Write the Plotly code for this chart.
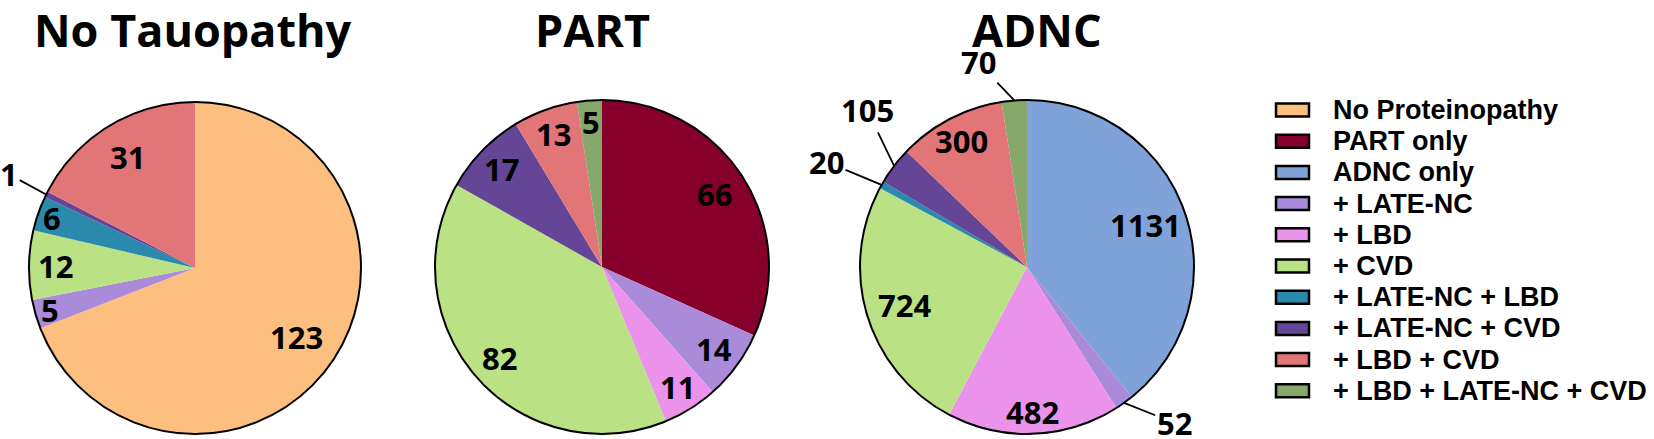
import math
import plotly.graph_objects as go

# ---------------- data ----------------
categories = ["No Proteinopathy", "PART only", "ADNC only", "+ LATE-NC", "+ LBD", "+ CVD",
              "+ LATE-NC + LBD", "+ LATE-NC + CVD", "+ LBD + CVD", "+ LBD + LATE-NC + CVD"]
no_tau_values = [123, 0, 0, 5, 0, 12, 6, 1, 31, 0]
part_values = [0, 66, 0, 14, 11, 82, 0, 17, 13, 5]
adnc_values = [0, 0, 1131, 52, 482, 724, 20, 105, 300, 70]
titles = ["No Tauopathy", "PART", "ADNC"]

# ---------------- style ----------------
colors = ["#FDBF7F", "#87002B", "#7FA3D8", "#A98BDA", "#EB93EA", "#BBE185",
          "#2A8AAD", "#644596", "#E27577", "#86A86B"]
W, H = 1654, 439
pies = [dict(cx=195, cy=268, R=166, tx=193),
        dict(cx=602, cy=267, R=167, tx=592),
        dict(cx=1027, cy=267, R=167, tx=1037)]
# radial fraction for inside labels; tuples (ax, ay) for labels with leader lines
label_pos = [
    {"No Proteinopathy": 0.74, "+ LATE-NC": 0.91, "+ CVD": 0.84, "+ LATE-NC + LBD": 0.91,
     "+ LATE-NC + CVD": (-37, -20), "+ LBD + CVD": 0.78},
    {"PART only": 0.80, "+ LATE-NC": 0.83, "+ LBD": 0.85, "+ CVD": 0.82,
     "+ LATE-NC + CVD": 0.84, "+ LBD + CVD": 0.85, "+ LBD + LATE-NC + CVD": 0.87},
    {"ADNC only": 0.75, "+ LATE-NC": (50, 20), "+ LBD": 0.87, "+ CVD": 0.77,
     "+ LATE-NC + LBD": (-55, -23), "+ LATE-NC + CVD": (-27, -56),
     "+ LBD + CVD": 0.85, "+ LBD + LATE-NC + CVD": (-36, -38)},
]
NUM_FONT = dict(family="Open Sans", size=31, color="black")


def px(x):
    return x / W


def py(y):
    return 1 - y / H


fig = go.Figure()
annotations = []
all_values = [no_tau_values, part_values, adnc_values]

for i, vals in enumerate(all_values):
    p = pies[i]
    labs = [c for c, v in zip(categories, vals) if v > 0]
    vs = [v for v in vals if v > 0]
    cols = [colors[categories.index(c)] for c in labs]
    dom = dict(x=[px(p["cx"] - p["R"]), px(p["cx"] + p["R"])],
               y=[py(p["cy"] + p["R"]), py(p["cy"] - p["R"])])
    fig.add_trace(go.Pie(labels=labs, values=vs, sort=False, direction="clockwise",
                         rotation=0, marker=dict(colors=cols, line=dict(width=0)),
                         textinfo="none", domain=dom, showlegend=False, hoverinfo="label+value"))
    # outline circle
    fig.add_trace(go.Pie(labels=["outline"], values=[1], sort=False, domain=dom,
                         marker=dict(colors=["rgba(0,0,0,0)"], line=dict(color="black", width=2)),
                         textinfo="none", showlegend=False, hoverinfo="skip"))
    # value labels computed from data
    total = sum(vs)
    cum = 0
    for lab, v in zip(labs, vs):
        theta = math.radians(360 * (cum + v / 2) / total)
        cum += v
        pos = label_pos[i][lab]
        if isinstance(pos, tuple):
            ex = p["cx"] + p["R"] * math.sin(theta)
            ey = p["cy"] - p["R"] * math.cos(theta)
            annotations.append(dict(x=px(ex), y=py(ey), xref="paper", yref="paper",
                                    text="<b>%d</b>" % v, showarrow=True, arrowhead=0,
                                    arrowwidth=1.8, arrowcolor="black", ax=pos[0], ay=pos[1],
                                    standoff=0, font=NUM_FONT))
        else:
            r = pos * p["R"]
            tx = p["cx"] + r * math.sin(theta)
            ty = p["cy"] - r * math.cos(theta)
            annotations.append(dict(x=px(tx), y=py(ty), xref="paper", yref="paper",
                                    text="<b>%d</b>" % v, showarrow=False,
                                    xanchor="center", yanchor="middle", font=NUM_FONT))
    # title
    annotations.append(dict(x=px(p["tx"]), y=py(29), xref="paper", yref="paper",
                            text="<b>%s</b>" % titles[i], showarrow=False,
                            xanchor="center", yanchor="middle",
                            font=dict(family="Open Sans", size=45, color="black")))

# legend (drawn manually)
shapes = []
for k, (c, col) in enumerate(zip(categories, colors)):
    yc = 110 + k * 31.2
    shapes.append(dict(type="rect", xref="paper", yref="paper",
                       x0=px(1276), x1=px(1309), y0=py(yc + 6.5), y1=py(yc - 6.5),
                       fillcolor=col, line=dict(color="black", width=2.5)))
    annotations.append(dict(x=px(1331), y=py(yc), xref="paper", yref="paper",
                            text="<b>%s</b>" % c, showarrow=False,
                            xanchor="left", yanchor="middle",
                            font=dict(family="Liberation Sans", size=27, color="black")))

fig.update_layout(width=W, height=H, margin=dict(l=0, r=0, t=0, b=0),
                  paper_bgcolor="white", plot_bgcolor="white",
                  annotations=annotations, shapes=shapes)
fig.write_html("out.html", config={"displayModeBar": False},
               post_script="document.body.style.margin='0';document.body.style.overflow='hidden';")
